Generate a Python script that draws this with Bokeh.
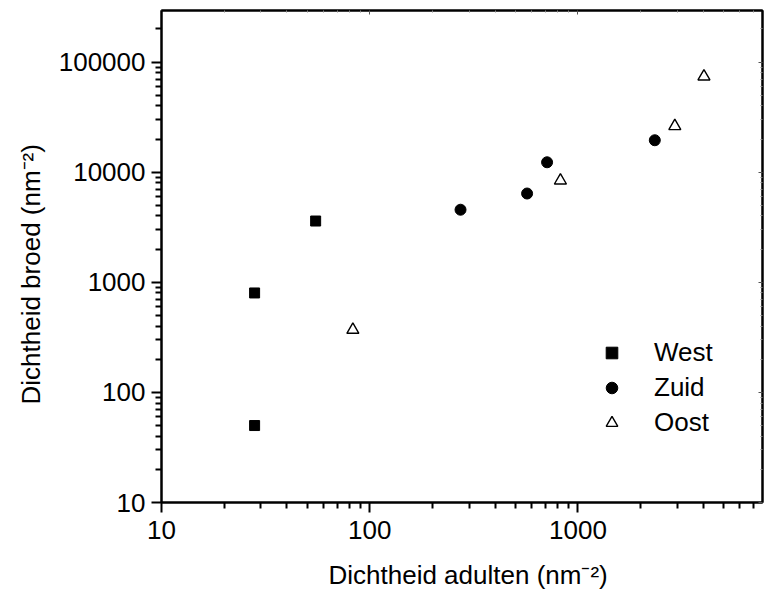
from bokeh.plotting import figure
from bokeh.models import LogAxis, FixedTicker, PrintfTickFormatter, Legend, LegendItem, Title
from bokeh.embed import file_html
from bokeh.resources import INLINE

# data
west_x = [28, 28, 55]
west_y = [800, 50, 3600]
zuid_x = [273, 570, 711, 2340]
zuid_y = [4560, 6400, 12300, 19500]
oost_x = [83, 824, 2920, 4030]
oost_y = [370, 8400, 26200, 74000]

x_ticks = [10, 100, 1000]
y_ticks = [10, 100, 1000, 10000, 100000]
x_minor = [m * d for d in (10, 100, 1000) for m in range(2, 10)]
y_minor = [m * d for d in (10, 100, 1000, 10000, 100000) for m in range(2, 10)]

x_title = "Dichtheid adulten (nm⁻²)"
y_title = "Dichtheid broed (nm⁻²)"

FONT = "Liberation Sans"
FS = "26px"

p = figure(width=765, height=606, x_axis_type="log", y_axis_type="log",
           x_range=(10, 7700), y_range=(10, 294000),
           output_backend="svg", toolbar_location=None,
           min_border_left=161, min_border_right=3, min_border_top=10, min_border_bottom=104)
p.grid.visible = False
p.outline_line_color = "black"
p.outline_line_width = 2
p.background_fill_color = "white"
p.border_fill_color = "white"

def style(ax, ticks, minor):
    ax.ticker = FixedTicker(ticks=ticks, minor_ticks=minor)
    ax.formatter = PrintfTickFormatter(format="%d")
    ax.axis_line_width = 2
    ax.axis_line_color = "black"
    ax.major_tick_line_width = 2
    ax.minor_tick_line_width = 2
    ax.major_tick_line_color = "black"
    ax.minor_tick_line_color = "black"
    ax.major_tick_in = 0
    ax.major_tick_out = 10
    ax.minor_tick_in = 0
    ax.minor_tick_out = 6
    ax.major_label_text_font = FONT
    ax.major_label_text_font_size = FS
    ax.major_label_text_color = "black"

style(p.xaxis[0], x_ticks, x_minor)
style(p.yaxis[0], y_ticks, y_minor)
p.xaxis[0].major_label_standoff = 8
p.yaxis[0].major_label_standoff = 6

for loc, ticks, minor in (("right", y_ticks, y_minor), ("above", x_ticks, x_minor)):
    ax = LogAxis(ticker=FixedTicker(ticks=ticks, minor_ticks=minor))
    ax.formatter = PrintfTickFormatter(format="%d")
    ax.major_label_text_font_size = "1px"
    ax.major_label_text_color = None
    ax.major_label_standoff = 0
    ax.axis_line_width = 2
    ax.axis_line_color = "black"
    ax.major_tick_in = 4
    ax.major_tick_out = 0
    ax.minor_tick_in = 2
    ax.minor_tick_out = 0
    ax.major_tick_line_color = "#555555"
    ax.minor_tick_line_color = "#888888"
    p.add_layout(ax, loc)

# axis titles as side-panel titles (so they can be shifted along the axis)
p.add_layout(Title(text=x_title, align="left", offset=167, standoff=32,
                   text_font=FONT, text_font_size=FS, text_font_style="normal",
                   text_color="black"), "below")
p.add_layout(Title(text=y_title, align="left", offset=98, standoff=19,
                   text_font=FONT, text_font_size=FS, text_font_style="normal",
                   text_color="black"), "left")

r1 = p.scatter(west_x, west_y, marker="square", size=10, fill_color="black", line_color="black")
r2 = p.scatter(zuid_x, zuid_y, marker="circle", size=11, fill_color="black", line_color="black")
r3 = p.scatter(oost_x, oost_y, marker="triangle", size=12, fill_color="white",
               line_color="black", line_width=1.4)

legend = Legend(items=[LegendItem(label="West", renderers=[r1]),
                       LegendItem(label="Zuid", renderers=[r2]),
                       LegendItem(label="Oost", renderers=[r3])],
                location=(436, 62), border_line_color=None, background_fill_alpha=0,
                padding=0, margin=0, spacing=0, glyph_width=29, glyph_height=35,
                label_height=35, label_standoff=28,
                label_text_font=FONT, label_text_font_size=FS, label_text_color="black")
p.add_layout(legend)

open("out.html", "w").write(file_html(p, INLINE))
